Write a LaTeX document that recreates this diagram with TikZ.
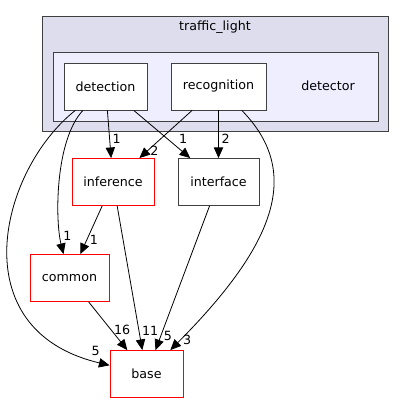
\documentclass[tikz,border=0pt]{standalone}
\usepackage{fontspec}
\setmainfont{DejaVu Sans}
\usetikzlibrary{arrows.meta,positioning}
\definecolor{outerfill}{HTML}{DDDDEE}
\definecolor{innerfill}{HTML}{EEEEFF}
\definecolor{frame}{HTML}{404040}

\begin{document}
\begin{tikzpicture}[x=0.75pt,y=-0.75pt,semithick,font=\fontsize{9.5}{11}\selectfont,
    >={Triangle[length=8pt,width=7pt]}]
	  \tikzstyle{dir}=[draw=frame,fill=white,minimum height=35.25pt,inner sep=0pt]
	  \tikzstyle{ext}=[dir,draw=red]
	  \tikzstyle{lbl}=[inner sep=2pt]
	  \useasboundingbox (0,0) rectangle (404,404);

	  % clusters
	  \node[draw=frame,fill=outerfill,minimum width=259.5pt,minimum height=86.25pt] (traffic) at (215,73.5) {};
	  \node (trafficlbl) at (215,27) {traffic\_light};
	  \node[draw=frame,fill=innerfill,minimum width=243.75pt,minimum height=51.75pt] (detector) at (215.5,86.5) {};
	  \node (detectorlbl) at (328,86) {detector};

	  \node[dir,minimum width=62.25pt] (detection) at (105.5,86.5) {detection};
	  \node[dir,minimum width=71.25pt] (recognition) at (218.5,86.5) {recognition};
	  \node[ext,minimum width=61.5pt] (inference) at (113,182) {inference};
	  \node[dir,minimum width=60.75pt] (interface) at (218.5,182) {interface};
	  \node[ext,minimum width=59.25pt] (common) at (69.5,278) {common};
	  \node[ext,minimum width=54.75pt] (base) at (146.5,374) {base};

	  \path[->] (detection) edge node[lbl,pos=0.6,right]{1} (inference)
	  (detection) edge node[lbl,pos=0.75,above right]{1} (interface)
	  (recognition) edge node[lbl,pos=0.85,right]{2} (inference)
	  (recognition) edge node[lbl,pos=0.6,right]{2} (interface)
	  (inference) edge node[lbl,pos=0.7,right]{1} (common)
	  (inference) edge node[lbl,pos=0.87,right]{11} (base)
	  (interface) edge node[lbl,pos=0.9,right]{5} (base)
	  (common) edge node[lbl,pos=0.58,right]{16} (base);

	  \draw[->] (detection) .. controls (55,140) and (55,220) .. node[lbl,pos=0.85,right]{1} (common);
	  \draw[->] (detection) .. controls (0,170) and (-40,330) .. node[lbl,pos=0.95,above right]{5} (base);
	  \draw[->] (recognition) .. controls (300,170) and (280,240) .. node[lbl,pos=0.97,right]{3} (base);
	\end{tikzpicture}
\end{document}
